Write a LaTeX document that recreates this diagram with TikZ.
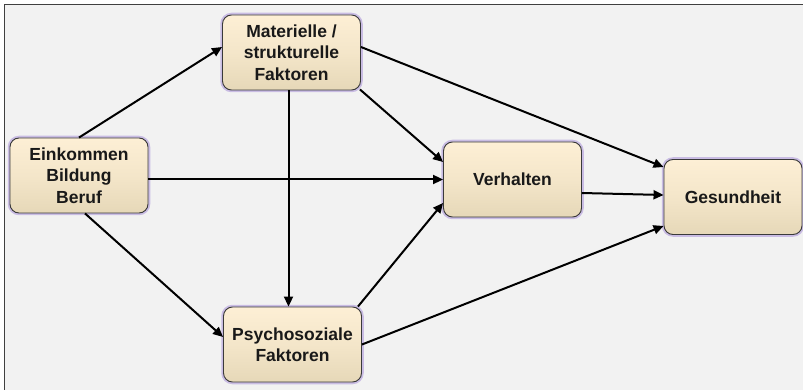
\documentclass[tikz,border=0pt]{standalone}
\usepackage{fontspec}
\setmainfont{Liberation Sans}
\usetikzlibrary{arrows.meta}
\definecolor{bg}{HTML}{F2F2F2}
\definecolor{frame}{HTML}{404040}
\definecolor{boxtop}{HTML}{FDEFD5}
\definecolor{boxbot}{HTML}{E6D8B8}
\definecolor{boxline}{HTML}{3A3A3A}
\definecolor{glow}{HTML}{B9A6DE}
\tikzset{
  box/.style={rounded corners=9pt, minimum width=138pt, minimum height=75pt,
    inner sep=2pt, align=center, text=black!90,
    font=\bfseries\fontsize{17.5}{21.5}\selectfont,
    top color=boxtop, bottom color=boxbot, middle color=boxtop!60!boxbot,
    draw=boxline, line width=0.9pt,
    preaction={draw=glow, line width=4.5pt, opacity=0.7}},
  arr/.style={-{Triangle[length=10pt,width=9pt]}, line width=2pt, black}
}
\begin{document}
\begin{tikzpicture}[x=1pt,y=-1pt]
\useasboundingbox (0,0) rectangle (803,390);
\fill[bg] (4,4) rectangle (803,390);
\draw[frame, line width=1.6pt] (4.5,390) -- (4.5,4.5) -- (803,4.5);

\node[box] (E) at (79,175.5) {Einkommen\\Bildung\\Beruf};
\node[box] (M) at (291.5,52.5) {Materielle /\\strukturelle\\Faktoren};
\node[box] (V) at (512.5,179.5) {Verhalten};
\node[box] (G) at (733,197) {Gesundheit};
\node[box] (P) at (292.5,344.5) {Psychosoziale\\Faktoren};

\draw[arr] (E.north) -- ([yshift=5.5pt]M.west);
\draw[arr] (E.east |- V.west) -- (V.west);
\draw[arr] ([xshift=6pt]E.south) -- ([yshift=7.5pt]P.west);
\draw[arr] ([shift={(-1pt,1pt)}]M.south east) -- ([yshift=17.5pt]V.west);
\draw[arr] ([yshift=5.5pt]M.east) -- ([yshift=30pt]G.west);
\draw[arr] ([xshift=-3pt]M.south) -- ([xshift=-3pt]M.south |- P.north);
\draw[arr] ([xshift=-4pt]P.north east) -- ([yshift=-23.5pt]V.west);
\draw[arr] (P.east) -- ([yshift=-29pt]G.west);
\draw[arr] ([yshift=-13.5pt]V.east) -- ([yshift=2pt]G.west);
\end{tikzpicture}
\end{document}
